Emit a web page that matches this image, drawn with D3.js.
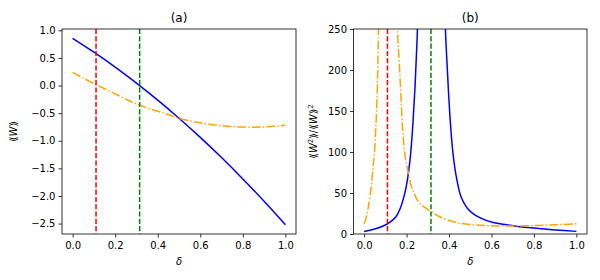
<!DOCTYPE html>
<html>
<head>
<meta charset="utf-8">
<script src="https://cdn.jsdelivr.net/npm/d3@7"></script>
<style>
  body { margin: 0; background: #fff; }
  text { font-family: "DejaVu Sans", sans-serif; }
</style>
</head>
<body>
<div id="chart"></div>
<script>
// panel (a): <<W>> against delta
var deltaBlue = [0, 0.1, 0.2, 0.3, 0.4, 0.5, 0.6, 0.7, 0.8, 0.9, 1.0];
var meanBlue = [0.855, 0.604, 0.334, 0.045, -0.264, -0.592, -0.939, -1.305, -1.691, -2.096, -2.52];
var deltaOrange = [0, 0.05, 0.1, 0.15, 0.2, 0.25, 0.3, 0.35, 0.4, 0.45, 0.5, 0.55, 0.6, 0.65, 0.7, 0.75, 0.8, 0.85, 0.9, 0.95, 1.0];
var meanOrange = [0.24, 0.135, 0.035, -0.058, -0.15, -0.245, -0.335, -0.405, -0.465, -0.525, -0.595, -0.64, -0.675, -0.705, -0.728, -0.745, -0.752, -0.754, -0.75, -0.738, -0.72];

// panel (b): <<W^2>>/<<W>>^2, two branches each side of the pole
var blueLeftD = [0, 0.05, 0.1, 0.13, 0.15, 0.17, 0.19, 0.2, 0.21, 0.22, 0.23, 0.24, 0.25, 0.26];
var blueLeftR = [3, 6, 11, 16, 21, 31, 48, 60, 77, 100, 135, 180, 240, 330];
var blueRightD = [0.37, 0.383, 0.39, 0.398, 0.408, 0.419, 0.435, 0.458, 0.497, 0.545, 0.608, 0.671, 0.734, 0.811, 0.9, 1.0];
var blueRightR = [400, 250, 211, 171, 130, 97.5, 69, 44.6, 28.3, 20, 14, 11.2, 8.8, 7, 5, 3.2];
var orangeLeftD = [0, 0.01, 0.02, 0.03, 0.04, 0.05, 0.06, 0.068, 0.075];
var orangeLeftR = [12.5, 20, 33, 50, 75, 105, 160, 250, 350];
var orangeRightD = [0.15, 0.157, 0.165, 0.173, 0.181, 0.192, 0.208, 0.22, 0.235, 0.26, 0.31, 0.356, 0.435, 0.513, 0.592, 0.7, 0.8, 0.9, 1.0];
var orangeRightR = [350, 250, 211, 171, 130, 97.5, 75, 60, 50, 38, 28.3, 21, 14, 11.2, 10, 9.7, 10.2, 11.2, 12.5];

// vertical markers
var deltaRed = 0.11;
var deltaGreen = 0.315;

var xTicks = [0, 0.2, 0.4, 0.6, 0.8, 1.0];
var yTicksA = [1.0, 0.5, 0.0, -0.5, -1.0, -1.5, -2.0, -2.5];
var yTicksB = [0, 50, 100, 150, 200, 250];

var width = 600, height = 280;
var svg = d3.select("#chart").append("svg")
  .attr("width", width)
  .attr("height", height);

var top_ = 29, bottom = 234;

function zip(xs, ys) {
  return xs.map(function(d, i) { return [d, ys[i]]; });
}

function panel(id, left, right, yDomain, yTicks, yFmt, title, series) {
  var x = d3.scaleLinear().domain([-0.05, 1.05]).range([left, right]);
  var y = d3.scaleLinear().domain(yDomain).range([bottom, top_]);

  var g = svg.append("g");

  svg.append("clipPath").attr("id", id)
    .append("rect")
      .attr("x", left).attr("y", top_)
      .attr("width", right - left).attr("height", bottom - top_);

  var plot = g.append("g").attr("clip-path", "url(#" + id + ")");

  var line = d3.line()
    .x(function(d) { return x(d[0]); })
    .y(function(d) { return y(d[1]); })
    .curve(d3.curveCatmullRom.alpha(0.5));

  series.forEach(function(s) {
    plot.append("path")
      .attr("d", line(s.data))
      .attr("fill", "none")
      .attr("stroke", s.color)
      .attr("stroke-width", 1.5)
      .attr("stroke-dasharray", s.dash || null);
  });

  [[deltaRed, "red"], [deltaGreen, "green"]].forEach(function(v) {
    plot.append("line")
      .attr("x1", x(v[0])).attr("x2", x(v[0]))
      .attr("y1", top_).attr("y2", bottom)
      .attr("stroke", v[1])
      .attr("stroke-width", 1.5)
      .attr("stroke-dasharray", "5.1,2.2");
  });

  var xAxis = g.append("g")
    .attr("transform", "translate(0," + bottom + ")")
    .call(d3.axisBottom(x).tickValues(xTicks).tickFormat(d3.format(".1f")).tickSize(3.5).tickPadding(4.5));
  var yAxis = g.append("g")
    .attr("transform", "translate(" + left + ",0)")
    .call(d3.axisLeft(y).tickValues(yTicks).tickFormat(yFmt).tickSize(3.5).tickPadding(3));

  [xAxis, yAxis].forEach(function(a) {
    a.attr("font-size", null).attr("font-family", null);
    a.select(".domain").remove();
    a.selectAll("text").attr("font-size", "10px").attr("fill", "#000");
    a.selectAll("line").attr("stroke", "#000").attr("stroke-width", 0.8);
  });

  g.append("rect")
    .attr("x", left).attr("y", top_)
    .attr("width", right - left).attr("height", bottom - top_)
    .attr("fill", "none")
    .attr("stroke", "#000")
    .attr("stroke-width", 0.8);

  g.append("text")
    .attr("x", (left + right) / 2).attr("y", 22)
    .attr("text-anchor", "middle")
    .attr("font-size", "12px")
    .text(title);

  g.append("text")
    .attr("x", (left + right) / 2).attr("y", 265)
    .attr("text-anchor", "middle")
    .attr("font-size", "10px")
    .attr("font-style", "italic")
    .text("δ");

  return g;
}

var gA = panel("clipA", 62, 296, [-2.689, 1.024], yTicksA, d3.format(".1f"), "(a)", [
  { data: zip(deltaBlue, meanBlue), color: "blue" },
  { data: zip(deltaOrange, meanOrange), color: "orange", dash: "8.8,2.2,1.4,2.2" }
]);

var gB = panel("clipB", 353.5, 587, [0, 250], yTicksB, d3.format("d"), "(b)", [
  { data: zip(blueLeftD, blueLeftR), color: "blue" },
  { data: zip(blueRightD, blueRightR), color: "blue" },
  { data: zip(orangeLeftD, orangeLeftR), color: "orange", dash: "8.8,2.2,1.4,2.2" },
  { data: zip(orangeRightD, orangeRightR), color: "orange", dash: "8.8,2.2,1.4,2.2" }
]);

// y labels
var labA = svg.append("text")
  .attr("transform", "translate(17,131.5) rotate(-90)")
  .attr("text-anchor", "middle")
  .attr("font-size", "10px");
labA.append("tspan").text("⟪");
labA.append("tspan").attr("font-style", "italic").text("W");
labA.append("tspan").text("⟫");

var labB = svg.append("text")
  .attr("transform", "translate(317,131.5) rotate(-90)")
  .attr("text-anchor", "middle")
  .attr("font-size", "10px");
labB.append("tspan").text("⟪");
labB.append("tspan").attr("font-style", "italic").text("W");
labB.append("tspan").attr("font-size", "7px").attr("dy", -4).text("2");
labB.append("tspan").attr("dy", 4).text("⟫/⟪");
labB.append("tspan").attr("font-style", "italic").text("W");
labB.append("tspan").text("⟫");
labB.append("tspan").attr("font-size", "7px").attr("dy", -4).text("2");
</script>
</body>
</html>
